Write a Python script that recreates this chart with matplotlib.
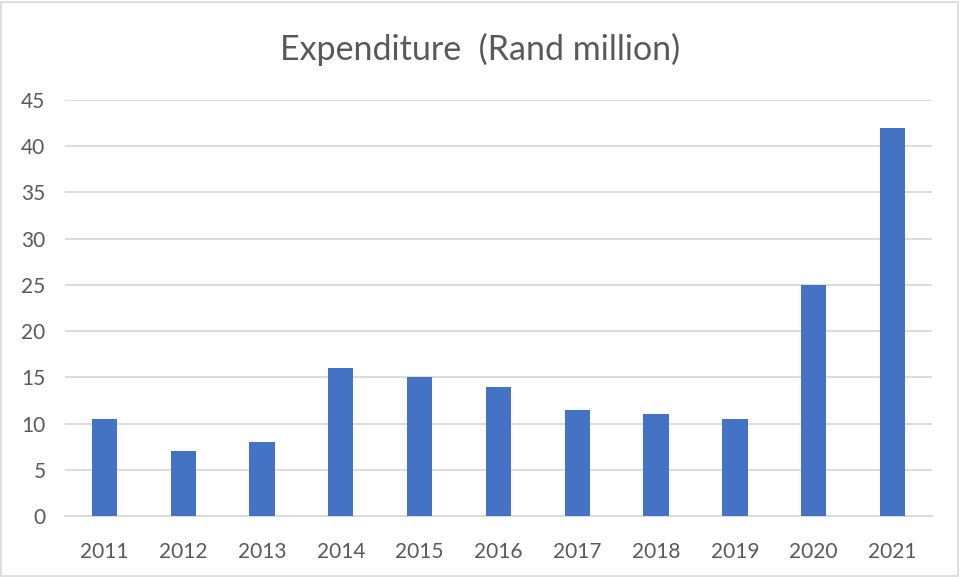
import matplotlib.pyplot as plt
from matplotlib.patches import Rectangle

years = ['2011', '2012', '2013', '2014', '2015', '2016', '2017', '2018', '2019', '2020', '2021']
expenditure = [10.5, 7, 8, 16, 15, 14, 11.5, 11, 10.5, 25, 42]
y_ticks = [0, 5, 10, 15, 20, 25, 30, 35, 40, 45]

plt.rcParams['font.family'] = ['Lato', 'DejaVu Sans']

fig = plt.figure(figsize=(9.61, 5.77), dpi=100)
ax = fig.add_axes([0.0676, 0.1057, 0.9022, 0.721])

ax.bar(range(len(years)), expenditure, width=0.32, color='#4472C4', zorder=3)

ax.set_xlim(-0.5, len(years) - 0.5)
ax.set_ylim(0, 45)
ax.set_yticks(y_ticks)
ax.set_xticks(range(len(years)))
ax.set_xticklabels(years)
ax.grid(axis='y', color='#D9D9D9', linewidth=1.3, zorder=0)
ax.tick_params(length=0, labelsize=15, labelcolor='#595959')
ax.tick_params(axis='x', pad=19)
ax.tick_params(axis='y', pad=14)
for side in ['top', 'right', 'left']:
    ax.spines[side].set_visible(False)
ax.spines['bottom'].set_color('#D9D9D9')
ax.spines['bottom'].set_linewidth(1.3)

fig.text(0.5, 0.915, 'Expenditure  (Rand million)', ha='center', va='center',
         fontsize=24.5, color='#595959')

fig.patches.append(Rectangle((0.001, 0.002), 0.996, 0.995, transform=fig.transFigure,
                             fill=False, edgecolor='#D9D9D9', linewidth=1.2))

fig.savefig('out.png', dpi=100)
